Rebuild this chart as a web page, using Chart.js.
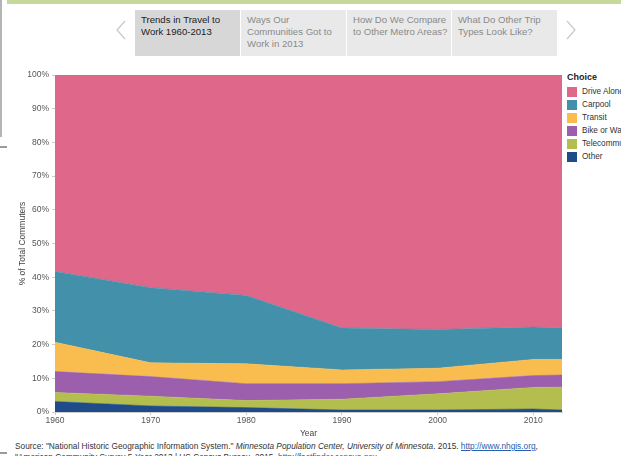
<!DOCTYPE html>
<html>
<head>
<meta charset="utf-8">
<script src="https://cdn.jsdelivr.net/npm/chart.js@4.4.1/dist/chart.umd.min.js"></script>
<style>
  html, body { margin: 0; padding: 0; width: 621px; height: 456px; overflow: hidden; background: #fff;
    font-family: "Liberation Sans", Arial, Helvetica, sans-serif; }
  .topbar { position: absolute; left: 7px; top: 0; width: 614px; height: 4px; background: #c6d99b; }
  .sideline { position: absolute; left: 0; top: 0; width: 2px; height: 137px; background: #b5b5b5; }
  .dash { position: absolute; left: 0; width: 7px; height: 2px; background: #9a9a9a; }
  .tab { position: absolute; top: 10px; height: 46px; background: #e9e9e9; color: #8a8a8a;
    font-size: 9.6px; line-height: 12px; padding: 4px 6px; box-sizing: border-box; white-space: nowrap; overflow: hidden; }
  .tab.active { background: #d7d7d7; color: #222; }
  .arrow { position: absolute; top: 20px; width: 10px; height: 20px; }
  #wrap { position: absolute; left: 0; top: 61px; width: 565px; height: 378px; }
  #legend { position: absolute; left: 567px; top: 72px; font-size: 8.2px; color: #333; white-space: nowrap; }
  #legend .title { font-weight: bold; font-size: 9px; margin-bottom: 3px; color: #222; }
  #legend .item { height: 13px; line-height: 12px; display: flex; align-items: center; }
  #legend .sw { width: 10px; height: 10px; margin-right: 5px; flex: none; }
  .source { position: absolute; left: 15px; font-size: 8.3px; color: #333; white-space: nowrap; }
  .source a { color: #2a5db0; text-decoration: underline; }
</style>
</head>
<body>
<div class="topbar"></div>
<div class="sideline"></div>
<div class="dash" style="top:146px"></div>
<div class="dash" style="top:452px"></div>

<svg class="arrow" style="left:116px" viewBox="0 0 10 20"><polyline points="9,1 1,10 9,19" fill="none" stroke="#c8c8c8" stroke-width="1.2"/></svg>
<div class="tab active" style="left:135px;width:105px">Trends in Travel to<br>Work 1960-2013</div>
<div class="tab" style="left:241px;width:105px">Ways Our<br>Communities Got to<br>Work in 2013</div>
<div class="tab" style="left:347px;width:104px">How Do We Compare<br>to Other Metro Areas?</div>
<div class="tab" style="left:452px;width:105px">What Do Other Trip<br>Types Look Like?</div>
<svg class="arrow" style="left:566px" viewBox="0 0 10 20"><polyline points="1,1 9,10 1,19" fill="none" stroke="#c8c8c8" stroke-width="1.2"/></svg>

<div id="wrap"><canvas id="chart"></canvas></div>
<div id="legend"></div>

<div class="source" style="top:441px">Source: "National Historic Geographic Information System." <i>Minnesota Population Center, University of Minnesota</i>. 2015. <a>http://www.nhgis.org</a>,</div>
<div class="source" style="top:452px">"American Community Survey 5-Year 2013 | US Census Bureau. 2015. <a>http://factfinder.census.gov</a></div>

<script>
// Survey years
const years = [1960, 1970, 1980, 1990, 2000, 2010, 2013];

// Share of commuters by mode (%)
const other       = [3.1, 1.8, 1.3, 0.6, 0.6, 0.9, 0.6];
const telecommute = [2.7, 2.9, 2.1, 3.2, 4.8, 6.4, 6.8];
const bikeWalk    = [6.2, 5.8, 5.0, 4.6, 3.6, 3.5, 3.6];
const transit     = [8.7, 4.1, 5.9, 4.1, 4.0, 4.8, 4.6];
const carpool     = [21.0, 22.3, 20.3, 12.4, 11.5, 9.6, 9.3];
const driveAlone  = [58.3, 63.1, 65.4, 75.1, 75.5, 74.8, 75.1];

// Tick labels
const yTicks = [0, 10, 20, 30, 40, 50, 60, 70, 80, 90, 100];
const xTicks = [1960, 1970, 1980, 1990, 2000, 2010];

// Stacked bottom to top
const layers = [
  { label: 'Other',       values: other,       color: '#1f4c88' },
  { label: 'Telecommute', values: telecommute, color: '#b4be4e' },
  { label: 'Bike or Walk',values: bikeWalk,    color: '#9b5fad' },
  { label: 'Transit',     values: transit,     color: '#f9bd4f' },
  { label: 'Carpool',     values: carpool,     color: '#4290aa' },
  { label: 'Drive Alone', values: driveAlone,  color: '#de678a' }
];

const datasets = layers.map((l, i) => ({
  label: l.label,
  data: years.map((y, j) => ({ x: y, y: l.values[j] })),
  backgroundColor: l.color,
  borderColor: l.color,
  borderWidth: 0.5,
  pointRadius: 0,
  tension: 0,
  fill: i === 0 ? 'origin' : '-1'
}));

Chart.defaults.font.family = '"Liberation Sans", Arial, Helvetica, sans-serif';
Chart.defaults.font.size = 8.5;
Chart.defaults.color = '#555';

new Chart(document.getElementById('chart'), {
  type: 'line',
  data: { datasets },
  options: {
    responsive: true,
    maintainAspectRatio: false,
    animation: false,
    layout: { padding: { top: 14, right: 3, left: 18, bottom: 0 } },
    plugins: { legend: { display: false }, tooltip: { enabled: false } },
    elements: { line: { borderJoinStyle: 'round' } },
    scales: {
      x: {
        type: 'linear',
        min: 1960, max: 2013,
        afterBuildTicks: s => { s.ticks = xTicks.map(v => ({ value: v })); },
        ticks: { callback: v => String(v), maxRotation: 0, padding: 1, color: '#555' },
        grid: { drawOnChartArea: false, drawTicks: true, tickLength: 3, color: '#ccc' },
        border: { display: true, color: '#ccc' },
        title: { display: true, text: 'Year', color: '#444', padding: { top: 2, bottom: 0 }, font: { size: 8.5 } },
        afterFit: s => { s.height = 27; }
      },
      y: {
        stacked: true,
        min: 0, max: 100,
        afterBuildTicks: s => { s.ticks = yTicks.map(v => ({ value: v })); },
        ticks: { callback: v => v + '%', padding: 3, color: '#555' },
        grid: { drawOnChartArea: false, drawTicks: true, tickLength: 3, color: '#ccc' },
        border: { display: true, color: '#ccc' },
        title: { display: true, text: '% of Total Commuters', color: '#444', padding: { top: 0, bottom: 2 }, font: { size: 8.5 } },
        afterFit: s => { s.width = 37; }
      }
    }
  }
});

// Legend, top layer first
const legend = document.getElementById('legend');
legend.innerHTML = '<div class="title">Choice</div>' +
  layers.slice().reverse().map(l =>
    '<div class="item"><span class="sw" style="background:' + l.color + '"></span>' + l.label + '</div>'
  ).join('');
</script>
</body>
</html>
